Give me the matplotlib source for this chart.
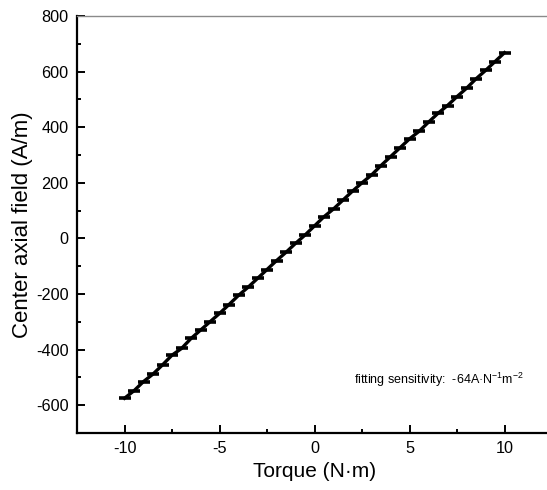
import matplotlib
matplotlib.use("Agg")
import matplotlib.pyplot as plt
from matplotlib.ticker import MultipleLocator

plt.rcParams['font.family'] = ['Liberation Sans', 'DejaVu Sans']
plt.rcParams['mathtext.fontset'] = 'custom'
plt.rcParams['mathtext.rm'] = 'Liberation Sans'
plt.rcParams['mathtext.it'] = 'Liberation Sans'
plt.rcParams['axes.unicode_minus'] = False

torque = [-10, -9.5, -9, -8.5, -8, -7.5, -7, -6.5, -6, -5.5, -5, -4.5, -4, -3.5,
          -3, -2.5, -2, -1.5, -1, -0.5, 0, 0.5, 1, 1.5, 2, 2.5, 3, 3.5, 4, 4.5,
          5, 5.5, 6, 6.5, 7, 7.5, 8, 8.5, 9, 9.5, 10]
field = [-575, -548, -515, -488, -455, -420, -396, -360, -330, -300, -270, -238,
         -205, -176, -144, -112, -80, -50, -18, 12, 45, 78, 106, 138, 170, 200,
         228, 262, 294, 326, 358, 385, 418, 450, 478, 510, 540, 574, 604, 636, 668]

xlabel = 'Torque (N·m)'
ylabel = 'Center axial field (A/m)'
note = 'fitting sensitivity:  -64A·N$^{-1}$m$^{-2}$'

fig = plt.figure(figsize=(5.47, 4.90), dpi=100)
ax = fig.add_axes([77/547, 57/490, 475/547, 417/490])

ax.plot(torque, field, color='black', lw=2.4, marker='_', ms=9, mew=2.6)

ax.set_xlim(-12.5, 12.5)
ax.set_ylim(-700, 800)
ax.xaxis.set_major_locator(MultipleLocator(5))
ax.xaxis.set_minor_locator(MultipleLocator(2.5))
ax.yaxis.set_major_locator(MultipleLocator(200))
ax.yaxis.set_minor_locator(MultipleLocator(100))
ax.tick_params(which='both', direction='in', top=False, right=False,
               labelsize=11.7, width=1.4, color='black')
ax.tick_params(which='major', length=6, pad=6)
ax.tick_params(which='minor', length=3)

for s in ['left', 'bottom']:
    ax.spines[s].set_linewidth(1.6)
ax.spines['top'].set_color('#8a8a8a')
ax.spines['top'].set_linewidth(1.0)
ax.spines['right'].set_visible(False)

ax.set_xlabel(xlabel, fontsize=15, labelpad=4)
ax.set_ylabel(ylabel, fontsize=16, labelpad=2)

ax.text(2.1, -525, note, fontsize=9, ha='left', va='baseline')

fig.savefig('out.png', dpi=100)
